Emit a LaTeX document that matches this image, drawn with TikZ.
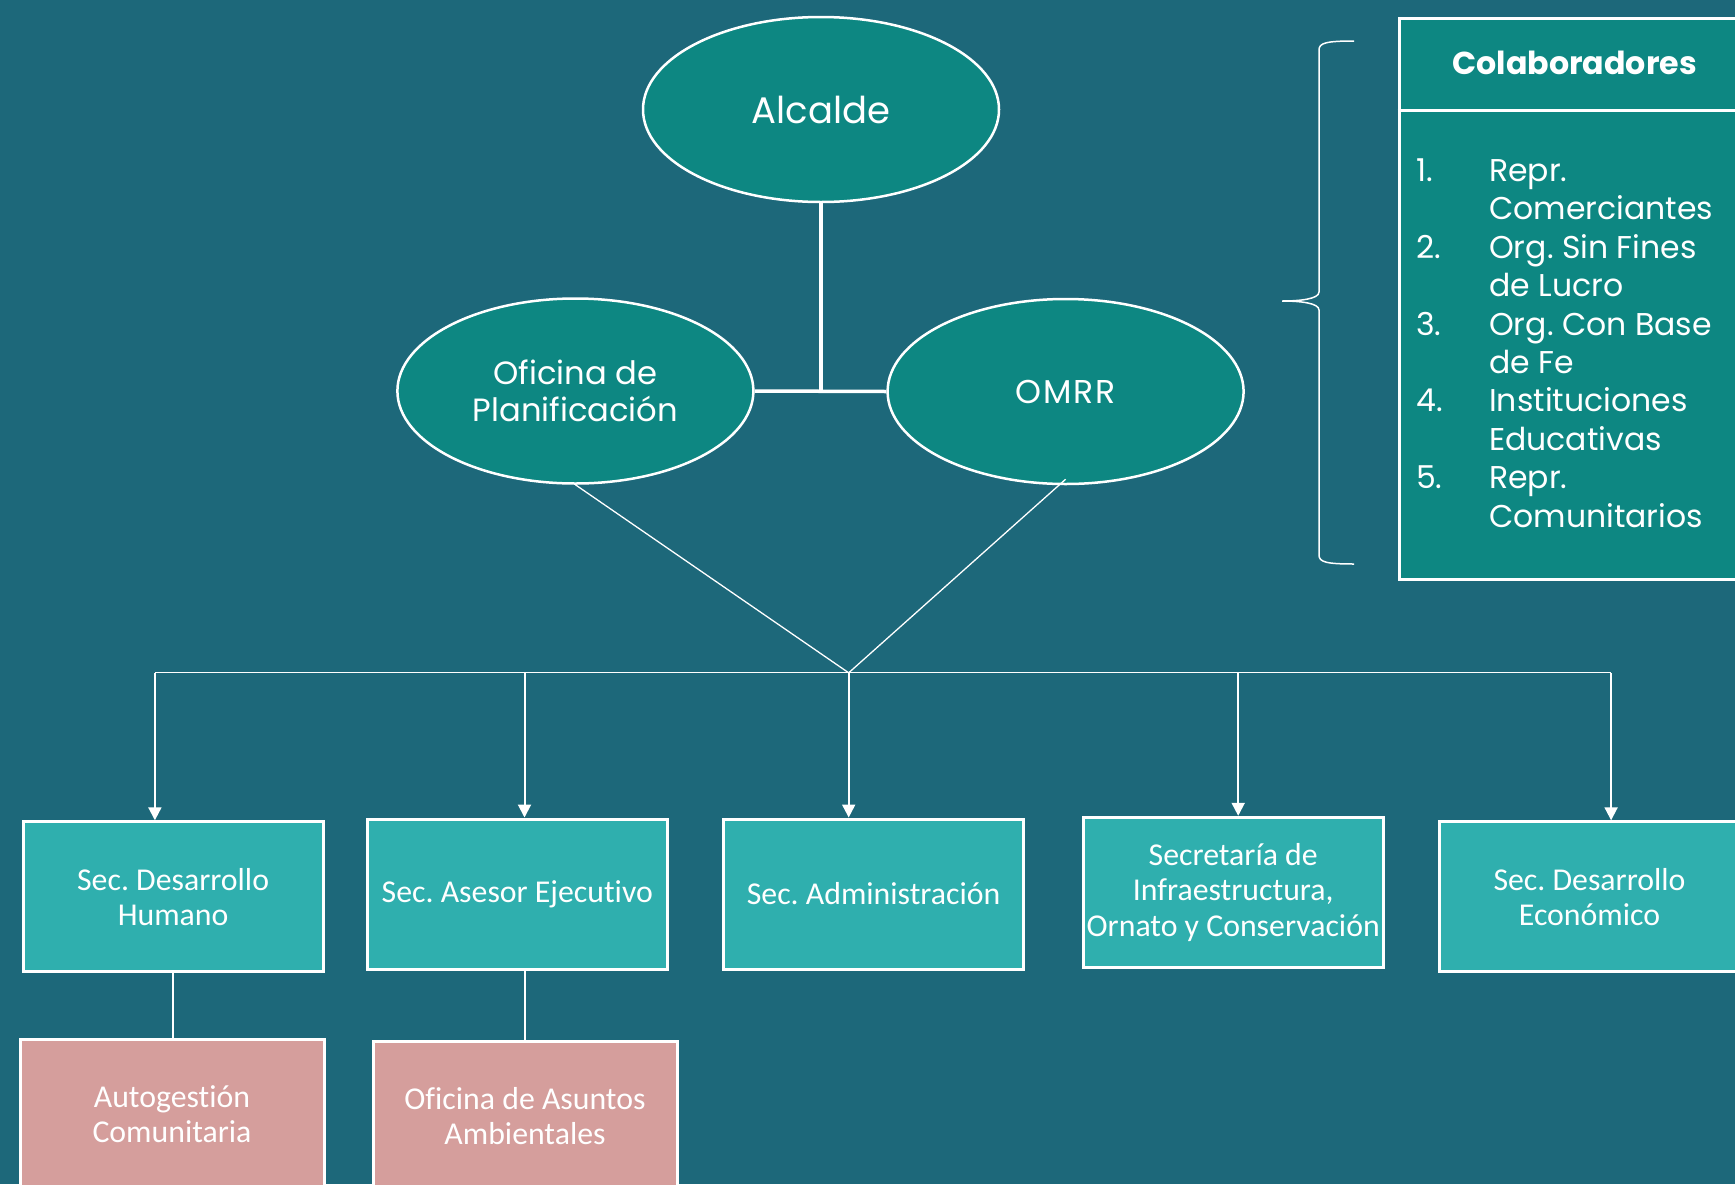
\documentclass[tikz,border=0pt]{standalone}
\usepackage{fontspec}
\setmainfont{Poppins}
\newfontfamily\boxfont{Carlito}[Ligatures=NoCommon]
\usetikzlibrary{shapes.geometric,arrows.meta,calc}
\definecolor{bgc}{RGB}{29,104,122}
\definecolor{ellc}{RGB}{13,135,130}
\definecolor{secc}{RGB}{47,175,174}
\definecolor{pinkc}{RGB}{213,158,156}
\frenchspacing
\begin{document}
\begin{tikzpicture}[x=1pt,y=-1pt,
 ell/.style={ellipse, draw=white, line width=2.5pt, fill=ellc, text=white,
   minimum width=356pt, minimum height=185pt, inner sep=0pt, align=center},
 secbox/.style={rectangle, draw=white, line width=3pt, fill=secc, text=white,
   minimum width=300pt, minimum height=150pt, align=center, inner sep=0pt,
   font=\boxfont\frenchspacing\fontsize{31.8}{35.4}\selectfont},
 subbox/.style={secbox, fill=pinkc, minimum width=304pt},
 thinline/.style={draw=white, line width=1.3pt},
 thickline/.style={draw=white, line width=3.5pt},
 arr/.style={draw=white, line width=2pt, -{Triangle[width=13pt,length=13pt]}}
]
\useasboundingbox (0,0) rectangle (1735,1184);
\fill[bgc] (0,0) rectangle (1735,1184);
\clip (0,0) rectangle (1735,1184);

% ellipses
\node[ell, font=\fontsize{37}{44}\selectfont] (alc) at (821,109.5) {Alcalde};
\node[ell, font=\fontsize{32.2}{37.6}\selectfont] (ofi) at (575.4,391) {Oficina de\\Planificación};
\node[ell, font=\fontsize{33}{37.6}\selectfont] (omrr) at (1065.6,391.5) {\addfontfeature{LetterSpace=6}OMRR};

% top connectors
\draw[thickline] (alc.south) -- (alc.south |- ofi.east);
\draw[thickline] (ofi.east) -- (omrr.west);

% hub and bus
\coordinate (hub) at (848.7,672.8);
\draw[thinline] (ofi.south) -- (hub);
\draw[thinline] ($(omrr.south)+(0,-6)$) -- (hub);

% secretaries
\node[secbox] (s1) at (173.1,896.8) {Sec. Desarrollo\\Humano};
\node[secbox] (s2) at (517.3,894) {Sec. Asesor Ejecutivo};
\node[secbox] (s3) at (873.6,894) {Sec. Administración};
\node[secbox] (s4) at (1233.2,892.3) {Secretaría de\\Infraestructura,\\Ornato y Conservación};
\node[secbox] (s5) at (1589.5,896.8) {Sec. Desarrollo\\Económico};

% sub offices
\node[subbox] (p1) at (172,1114) {Autogestión\\Comunitaria};
\node[subbox] (p2) at (525,1116) {Oficina de Asuntos\\Ambientales};

\coordinate (a1) at (154.9,672.8);
\coordinate (a2) at (524.5,672.8);
\coordinate (a3) at (848.7,672.8);
\coordinate (a4) at (1238.2,672.8);
\coordinate (a5) at (1611.1,672.8);
\draw[thinline] (a1) -- (a5);
\draw[arr] (a1) -- (a1 |- s1.north);
\draw[arr] (a2) -- (a2 |- s2.north);
\draw[arr] (a3) -- (a3 |- s3.north);
\draw[arr] (a4) -- (a4 |- s4.north);
\draw[arr] (a5) -- (a5 |- s5.north);

\draw[thinline, line width=2pt] (s1.south) -- (p1.north -| s1.south);
\draw[thinline, line width=1.5pt] (p2.north |- s2.south) -- (p2.north);

% colaboradores
\node[draw=white, line width=3pt, fill=ellc, minimum width=362pt, minimum height=561pt,
  anchor=north west, inner sep=0pt] (colab) at (1397.5,16.6) {};
\draw[white, line width=3pt] (colab.west |- 0,110.7) -- (colab.east |- 0,110.7);
\node[text=white, font=\bfseries\fontsize{31.7}{36}\selectfont] (colt) at (1574.6,63) {Colaboradores};
\node[text=white, anchor=north west, inner sep=0pt, font=\fontsize{31.5}{38.4}\selectfont] (list) at (1416,154.5)
 {\begin{tabular}{@{}p{73pt}@{}l@{}}
 1. & Repr.\\
    & Comerciantes\\
 2. & Org. Sin Fines\\
    & de Lucro\\
 3. & Org. Con Base\\
    & de Fe\\
 4. & Instituciones\\
    & Educativas\\
 5. & Repr.\\
    & Comunitarios
 \end{tabular}};

% brace
\draw[white, line width=1.5pt] (1354,41) .. controls (1326,41) and (1319,43) .. (1319,50)
  -- (1319,292) .. controls (1319,299) and (1300,301) .. (1282,301)
  .. controls (1300,301) and (1319,303) .. (1319,310)
  -- (1319,555) .. controls (1319,562) and (1326,564) .. (1354,564);
\end{tikzpicture}
\end{document}
